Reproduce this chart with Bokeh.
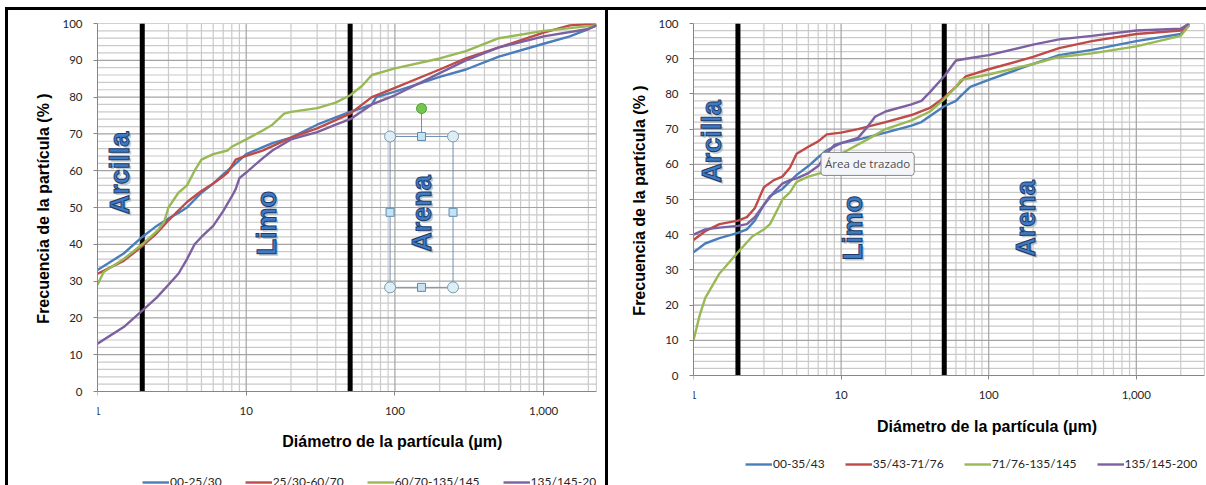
import math
from bokeh.plotting import figure
from bokeh.models import (Range1d, FixedTicker, NumeralTickFormatter, Legend,
                          LegendItem, Label, Div)
from bokeh.models.glyphs import Text
from bokeh.layouts import row
from bokeh.embed import file_html
from bokeh.resources import INLINE
from bokeh.core.properties import value

# ---------------- data ----------------
# Left panel
L_names = ["00-25/30", "25/30-60/70", "60/70-135/145", "135/145-200"]
L1_x = [1, 1.5, 2, 2.5, 3, 3.5, 4, 5, 6, 7, 8, 10, 15, 20, 30, 40, 50, 60, 70, 75, 100, 200, 300, 500, 1000, 1500, 2000, 2268]
L1_y = [33, 37.5, 42, 45, 47, 48.5, 50, 54, 56.5, 59, 61, 64.5, 67.5, 69, 72.5, 74.5, 76, 77, 78, 80, 81.5, 85.5, 87.5, 91, 94.5, 96.5, 98.5, 99.5]
L2_x = [1, 1.5, 2, 2.5, 3, 4, 5, 6, 7, 7.5, 8.5, 10, 13, 20, 30, 50, 70, 100, 200, 300, 500, 1000, 1500, 2268]
L2_y = [32, 35.5, 39.5, 43, 46.5, 51.5, 54.5, 56.5, 58.5, 59.5, 63, 64, 65.5, 69, 71.5, 75.5, 80, 82.5, 87.5, 90.5, 93.5, 97.5, 99.5, 100]
L3_x = [1, 1.1, 1.5, 2, 2.5, 2.8, 3, 3.5, 4, 4.5, 5, 6, 7.5, 8, 10, 13, 15, 18, 20, 30, 40, 50, 60, 70, 100, 200, 300, 500, 1000, 2268]
L3_y = [29, 32.5, 36, 40, 43.5, 46, 50, 54, 56, 60, 63, 64.5, 65.5, 66.5, 68.5, 71, 72.5, 75.5, 76, 77, 78.5, 80.5, 83, 86, 87.8, 90.5, 92.5, 96, 98, 99.5]
L4_x = [1, 1.5, 2, 2.5, 3, 3.5, 4, 4.5, 5, 6, 7, 8, 8.5, 9, 10, 13, 15, 20, 30, 40, 50, 70, 100, 200, 300, 500, 1000, 2000, 2268]
L4_y = [13, 17.5, 22, 25.5, 29, 32, 36, 40, 42, 45, 49, 53, 55, 58, 59.5, 63.5, 65.5, 68.5, 70.5, 72.5, 74, 78, 80.5, 86.5, 90, 93.5, 96.5, 98.5, 99.5]

# Right panel
R_names = ["00-35/43", "35/43-71/76", "71/76-135/145", "135/145-200"]
R1_x = [1, 1.2, 1.5, 2, 2.3, 2.6, 3, 3.3, 4, 5, 6, 7, 8, 10, 13, 20, 30, 35, 50, 60, 65, 75, 100, 200, 300, 500, 1000, 2000, 2280]
R1_y = [35, 37.5, 39, 40.5, 41.5, 44, 48.5, 51, 53, 57, 59.5, 62, 64, 66, 67, 69, 71, 72, 76.5, 78, 79.5, 82, 84, 88.5, 91, 92.5, 95, 97, 99.5]
R2_x = [1, 1.2, 1.5, 2, 2.3, 2.6, 3, 3.5, 4, 4.5, 5, 6, 7, 8, 10, 13, 20, 30, 40, 50, 60, 70, 100, 200, 300, 500, 1000, 2000, 2280]
R2_y = [38.5, 41, 43, 44, 45, 47.5, 53.5, 55.5, 56.5, 59, 63, 65, 66.5, 68.5, 69, 70, 72, 74, 76, 79, 82, 85, 87, 90.5, 93, 95, 97, 98, 100]
R3_x = [1, 1.1, 1.2, 1.5, 2, 2.5, 3, 3.3, 3.8, 4, 4.5, 5, 6, 8, 10, 15, 20, 30, 40, 50, 60, 65, 100, 200, 300, 500, 1000, 2000, 2280]
R3_y = [10, 17, 22, 29, 35, 39.5, 41.5, 43, 48, 50, 52, 55, 56.5, 58, 63, 67, 70, 72.5, 75, 78.5, 82, 84, 85.5, 88.5, 90.5, 91.5, 93.5, 96.5, 99.5]
R4_x = [1, 1.2, 1.5, 2, 2.3, 2.6, 3, 3.5, 4, 4.5, 5, 6, 7, 8, 9, 10, 13, 15, 17, 20, 30, 35, 40, 50, 60, 70, 100, 200, 300, 500, 1000, 2000, 2280]
R4_y = [40, 41.5, 42, 42.5, 43, 45, 48.5, 52, 54.5, 55.5, 56, 57.5, 59.5, 63, 65.5, 66, 67.5, 70.5, 73.5, 75, 77, 78, 80.5, 85, 89.5, 90, 91, 94, 95.5, 96.5, 98, 98.5, 100]

X_TICKS = [1, 10, 100, 1000]
X_MINOR = [2, 3, 4, 5, 6, 7, 8, 9, 20, 30, 40, 50, 60, 70, 80, 90,
           200, 300, 400, 500, 600, 700, 800, 900, 2000]
Y_TICKS = list(range(0, 101, 10))
Y_MINOR = [v for v in range(0, 101, 2) if v % 10]
BOUNDARIES = [2, 50]          # clay / silt / sand limits (µm)
ZONES = ["Arcilla", "Limo", "Arena"]
X_TITLE = "Diámetro de la partícula (µm)"
Y_TITLE = "Frecuencia de la partícula (% )"

COLORS = ["#4A7EBB", "#BE4B48", "#98B954", "#7D60A0"]
TICK_FONT = "Lato"
TITLE_FONT = "Liberation Sans"
MAJOR_GRID = "#A3A3A3"
MINOR_GRID = "#CACACA"

HAS_OUTLINE = "text_outline_color" in Text.properties()
LABEL_PROPS = Label.properties()
EM, EN, QS = "\u2003", "\u2002", "\u2005"


def make_panel(series, names, width, height, mbl, mbr, mbt, xmax, ymin,
               ylabel_standoff, ytitle_pad, xtitle_pos, legend_loc,
               legend_spacing, zone_pos):
    p = figure(width=width, height=height, x_axis_type="log",
               x_range=Range1d(1, xmax), y_range=Range1d(ymin, 100),
               output_backend="svg", toolbar_location=None,
               min_border_left=mbl, min_border_right=mbr,
               min_border_top=mbt, min_border_bottom=0)
    p.background_fill_color = "white"
    p.border_fill_color = "white"
    p.outline_line_color = None
    p.xgrid.visible = False
    p.ygrid.visible = False

    # plot-area grid (only over 0..100, like the spreadsheet chart)
    p.segment(x0=X_MINOR, y0=[0] * len(X_MINOR), x1=X_MINOR,
              y1=[100] * len(X_MINOR), line_color=MINOR_GRID, line_width=1.2)
    p.segment(x0=[1] * len(Y_MINOR), y0=Y_MINOR, x1=[xmax] * len(Y_MINOR),
              y1=Y_MINOR, line_color=MINOR_GRID, line_width=1.2)
    p.segment(x0=X_TICKS[1:] + [xmax], y0=[0] * len(X_TICKS), x1=X_TICKS[1:] + [xmax],
              y1=[100] * len(X_TICKS), line_color=MAJOR_GRID, line_width=1.2)
    p.segment(x0=[1] * len(Y_TICKS), y0=Y_TICKS, x1=[xmax] * len(Y_TICKS),
              y1=Y_TICKS, line_color=MAJOR_GRID, line_width=1.2)

    p.xaxis.ticker = FixedTicker(ticks=X_TICKS, minor_ticks=X_MINOR)
    p.xaxis.formatter = NumeralTickFormatter(format="0,0")
    p.xaxis.fixed_location = 0
    p.yaxis.ticker = FixedTicker(ticks=Y_TICKS, minor_ticks=Y_MINOR)
    p.yaxis.bounds = (0, 100)
    for ax in (p.xaxis, p.yaxis):
        ax.axis_line_color = "#868686"
        ax.major_tick_line_color = "#868686"
        ax.major_tick_out = 4
        ax.major_tick_in = 0
        ax.minor_tick_line_color = None
        ax.major_label_text_font = TICK_FONT
        ax.major_label_text_font_size = "11.5px"
        ax.major_label_text_color = "#262626"
        ax.major_label_standoff = 11
    # y title: the reference centres it on 0..100, so pad its start
    p.yaxis.axis_label = ytitle_pad + Y_TITLE
    p.yaxis.axis_label_text_font = TITLE_FONT
    p.yaxis.axis_label_text_font_style = "bold"
    p.yaxis.axis_label_text_font_size = "16px"
    p.yaxis.axis_label_text_color = "black"
    p.yaxis.axis_label_standoff = ylabel_standoff

    # class limits
    p.segment(x0=BOUNDARIES, y0=[0] * len(BOUNDARIES), x1=BOUNDARIES,
              y1=[100] * len(BOUNDARIES), line_color="black", line_width=5)

    items = []
    for (xs, ys), name, col in zip(series, names, COLORS):
        r = p.line(xs, ys, line_color=col, line_width=2.4)
        items.append(LegendItem(label=name, renderers=[r]))

    # zone texts
    zx = [z[0] for z in zone_pos]
    zy = [z[1] for z in zone_pos]
    p.text(x=zx, y=zy, text=ZONES, angle=math.pi / 2, x_offset=2, y_offset=2,
           text_font=value(TITLE_FONT), text_font_style="bold",
           text_font_size="27px", text_color="#8C9AAE", text_alpha=0.55,
           text_align="center", text_baseline="middle")
    kw = {}
    if HAS_OUTLINE:
        kw["text_outline_color"] = "#1B3C6A"
    p.text(x=zx, y=zy, text=ZONES, angle=math.pi / 2,
           text_font=value(TITLE_FONT), text_font_style="bold",
           text_font_size="27px", text_color="#3F7BC3",
           text_align="center", text_baseline="middle", **kw)

    p.add_layout(Label(x=xtitle_pos[0], y=xtitle_pos[1], text=X_TITLE,
                       text_font=TITLE_FONT, text_font_style="bold",
                       text_font_size="16px", text_color="black",
                       text_align="center", text_baseline="middle"))

    leg = Legend(items=items, orientation="horizontal", location=legend_loc,
                 glyph_width=27, glyph_height=14, label_height=14,
                 label_standoff=1, spacing=legend_spacing, padding=0, margin=0,
                 border_line_color=None, background_fill_alpha=0,
                 label_text_font=TICK_FONT,
                 label_text_font_size="12px", label_text_color="#262626")
    p.add_layout(leg)
    return p


left = make_panel([(L1_x, L1_y), (L2_x, L2_y), (L3_x, L3_y), (L4_x, L4_y)],
                  L_names, 605, 485, 97, 9, 23, 2268, -25.54, 7,
                  EM * 5 + EN + QS, (96.0, -13.6), (45, -4), 23,
                  [(1.41, 59.4), (13.9, 45.7), (152.6, 48.4)])

# Excel selection handles around the "Arena" text box (left panel)
sel_l, sel_r, sel_b, sel_t, sel_mx, sel_my, rot_y = 92.8, 246, 28.3, 69.3, 151, 48.7, 76.9
left.quad(left=[sel_l], right=[sel_r], bottom=[sel_b], top=[sel_t],
          fill_color=None, line_color="#6F8FB0", line_width=1)
left.segment(x0=[sel_mx], y0=[sel_t], x1=[sel_mx], y1=[rot_y],
             line_color="#6F8FB0", line_width=1)
left.scatter(x=[sel_l, sel_r, sel_l, sel_r], y=[sel_b, sel_b, sel_t, sel_t],
             marker="circle", size=11, fill_color="#DDEFF4",
             line_color="#7F99AE", line_width=1)
left.scatter(x=[sel_mx, sel_mx, sel_l, sel_r], y=[sel_b, sel_t, sel_my, sel_my],
             marker="square", size=8, fill_color="#C7E3F1",
             line_color="#5B88B2", line_width=1)
left.scatter(x=[sel_mx], y=[rot_y], marker="circle", size=10,
             fill_color="#72C74E", line_color="#4C9A33", line_width=1)

right = make_panel([(R1_x, R1_y), (R2_x, R2_y), (R3_x, R3_y), (R4_x, R4_y)],
                   R_names, 601, 485, 88, 2, 23, 2898, -31.25, 7,
                   EM * 6 + EN + QS, (97.4, -14.5), (52, 14), 20,
                   [(1.34, 66.5), (12.1, 41.9), (180, 44.6)])

tip_kw = dict(x=7.31, y=60.1, text="Área de trazado",
              text_font="Open Sans", text_font_size="11.5px",
              text_color="#4D4D4D", text_align="left", text_baseline="middle",
              background_fill_color="#F4F5F9", border_line_color="#8A8A8A",
              border_line_width=1)
if "padding" in LABEL_PROPS:
    tip_kw["padding"] = 4
if "border_radius" in LABEL_PROPS:
    tip_kw["border_radius"] = 3
right.add_layout(Label(**tip_kw))


def bar(x, y, w, h):
    return Div(text="", width=w, height=h,
               styles={"position": "absolute", "left": f"{x}px",
                       "top": f"{y}px", "background-color": "black",
                       "padding": "0", "margin": "0"})


borders = [bar(5, 7, 1201, 3), bar(5, 7, 3, 478), bar(605, 7, 3, 478)]

open("out.html", "w").write(file_html([row(left, right)] + borders, INLINE))
